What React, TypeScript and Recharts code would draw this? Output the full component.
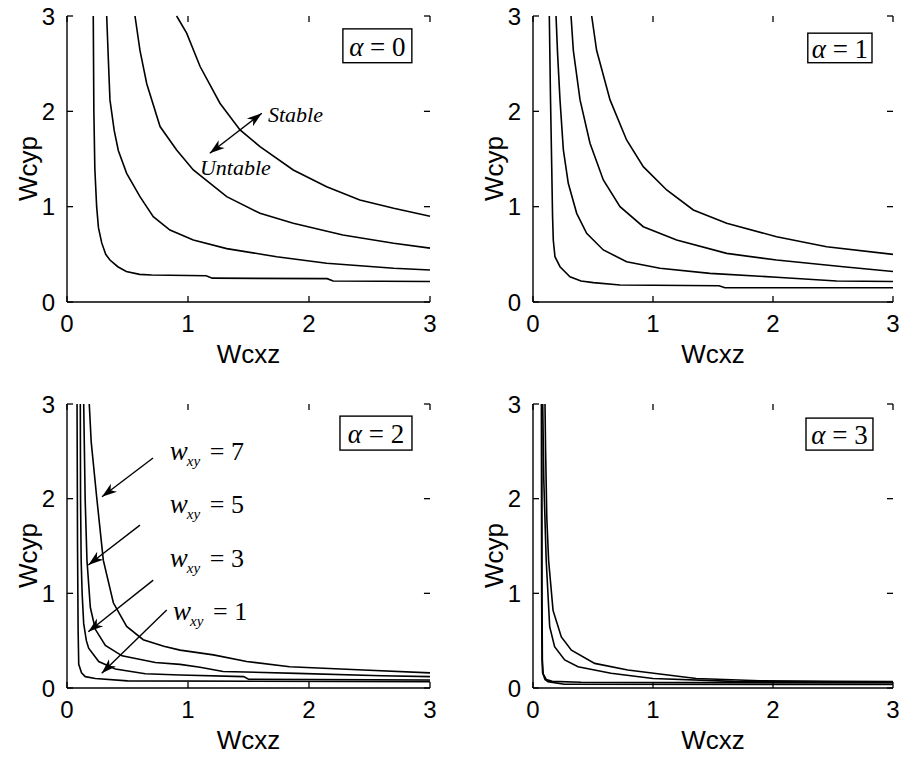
import React from 'react'
import {
  LineChart,
  Line,
  XAxis,
  YAxis,
  ReferenceArea,
  ReferenceLine,
  ReferenceDot
} from 'recharts'

type Pt = [number, number]

// tick values shared by all four panels
const axisTicks = [0, 1, 2, 3]
const wxyValues = ['1', '3', '5', '7']
const alphaValues = ['0', '1', '2', '3']

// alpha = 0, curves for w_xy = 1, 3, 5, 7  ([Wcxz, Wcyp])
const a0w1: Pt[] = [[0.217, 3], [0.222, 2.0], [0.23, 1.4], [0.245, 1.0], [0.26, 0.78], [0.287, 0.62], [0.32, 0.5], [0.355, 0.44], [0.42, 0.37], [0.49, 0.32], [0.6, 0.29], [0.7, 0.283], [1.15, 0.275], [1.2, 0.25], [2.15, 0.245], [2.2, 0.22], [3, 0.215]]
const a0w3: Pt[] = [[0.328, 3], [0.34, 2.6], [0.355, 2.12], [0.39, 1.8], [0.424, 1.59], [0.493, 1.35], [0.603, 1.105], [0.713, 0.895], [0.851, 0.755], [1.044, 0.65], [1.32, 0.56], [1.733, 0.475], [2.146, 0.406], [2.7, 0.354], [3, 0.335]]
const a0w5: Pt[] = [[0.562, 3], [0.603, 2.64], [0.659, 2.29], [0.769, 1.84], [0.906, 1.595], [1.044, 1.385], [1.32, 1.105], [1.595, 0.93], [1.87, 0.826], [2.28, 0.703], [2.7, 0.616], [3, 0.565]]
const a0w7: Pt[] = [[0.906, 3], [0.989, 2.82], [1.1, 2.47], [1.264, 2.085], [1.43, 1.805], [1.595, 1.63], [1.87, 1.385], [2.146, 1.21], [2.42, 1.07], [2.7, 0.983], [3, 0.9]]

// alpha = 1
const a1w1: Pt[] = [[0.136, 3], [0.145, 2.2], [0.156, 1.42], [0.163, 0.9], [0.169, 0.65], [0.183, 0.475], [0.225, 0.37], [0.308, 0.265], [0.4, 0.22], [0.503, 0.203], [0.725, 0.178], [1.55, 0.17], [1.6, 0.15], [3, 0.15]]
const a1w3: Pt[] = [[0.192, 3], [0.205, 2.6], [0.225, 2.12], [0.253, 1.595], [0.294, 1.245], [0.364, 0.93], [0.447, 0.72], [0.586, 0.546], [0.78, 0.423], [1.058, 0.354], [1.475, 0.3], [2.03, 0.26], [2.53, 0.22], [3, 0.215]]
const a1w5: Pt[] = [[0.317, 3], [0.336, 2.64], [0.392, 2.12], [0.475, 1.665], [0.586, 1.28], [0.725, 1.0], [0.919, 0.79], [1.197, 0.65], [1.614, 0.51], [2.03, 0.44], [2.586, 0.37], [3, 0.32]]
const a1w7: Pt[] = [[0.489, 3], [0.53, 2.64], [0.642, 2.12], [0.78, 1.7], [0.919, 1.42], [1.114, 1.175], [1.336, 0.965], [1.614, 0.826], [2.03, 0.685], [2.447, 0.58], [3, 0.5]]

// alpha = 2
const a2w1: Pt[] = [[0.083, 3], [0.087, 1.5], [0.092, 0.6], [0.097, 0.25], [0.12, 0.16], [0.151, 0.12], [0.234, 0.1], [0.5, 0.075], [3, 0.067]]
const a2w3: Pt[] = [[0.11, 3], [0.112, 2], [0.117, 1.35], [0.125, 1.0], [0.138, 0.68], [0.16, 0.5], [0.179, 0.42], [0.262, 0.28], [0.4, 0.2], [0.647, 0.15], [0.934, 0.137], [1.46, 0.12], [1.5, 0.092], [3, 0.085]]
const a2w5: Pt[] = [[0.138, 3], [0.15, 2.0], [0.165, 1.35], [0.193, 0.85], [0.234, 0.62], [0.317, 0.45], [0.455, 0.34], [0.73, 0.27], [0.934, 0.25], [1.1, 0.22], [1.29, 0.175], [1.9, 0.155], [2.6, 0.13], [3, 0.12]]
const a2w7: Pt[] = [[0.184, 3], [0.2, 2.6], [0.245, 2.02], [0.3, 1.35], [0.383, 0.9], [0.493, 0.65], [0.63, 0.51], [0.8, 0.44], [0.934, 0.4], [1.21, 0.35], [1.485, 0.28], [1.84, 0.225], [2.45, 0.19], [3, 0.16]]

// alpha = 3
const a3w1: Pt[] = [[0.07, 3], [0.072, 1.0], [0.075, 0.3], [0.08, 0.16], [0.1, 0.09], [0.125, 0.067], [0.26, 0.04], [3, 0.038]]
const a3w3: Pt[] = [[0.073, 3], [0.075, 1.0], [0.078, 0.3], [0.085, 0.15], [0.11, 0.09], [0.16, 0.07], [0.4, 0.06], [3, 0.055]]
const a3w5: Pt[] = [[0.081, 3], [0.09, 2.2], [0.11, 1.35], [0.139, 0.647], [0.18, 0.436], [0.264, 0.296], [0.375, 0.225], [0.65, 0.155], [1.0, 0.1], [1.67, 0.07], [3, 0.062]]
const a3w7: Pt[] = [[0.1, 3], [0.105, 2.5], [0.115, 1.8], [0.13, 1.35], [0.167, 0.82], [0.236, 0.54], [0.32, 0.4], [0.514, 0.26], [0.79, 0.19], [1.04, 0.15], [1.36, 0.1], [1.89, 0.077], [2.5, 0.07], [3, 0.068]]

const curveSets = [
  [a0w1, a0w3, a0w5, a0w7],
  [a1w1, a1w3, a1w5, a1w7],
  [a2w1, a2w3, a2w5, a2w7],
  [a3w1, a3w3, a3w5, a3w7]
]

const sansFont = "'Liberation Sans', Arial, sans-serif"
const serifFont = "'Liberation Serif', 'Times New Roman', serif"
// inward tick length in axis units (about 6px)
const TICK_X = 0.05
const TICK_Y = 0.063

// pixel layout of each subplot
const layout = [
  { left: 0, top: 0, width: 450, height: 380, mTop: 16, mRight: 20, yw: 67, xh: 78 },
  { left: 451, top: 0, width: 451, height: 380, mTop: 16, mRight: 9, yw: 82, xh: 78 },
  { left: 0, top: 380, width: 450, height: 381, mTop: 24, mRight: 20, yw: 67, xh: 73 },
  { left: 451, top: 380, width: 451, height: 381, mTop: 24, mRight: 9, yw: 82, xh: 73 }
]

// alpha boxes in data units [x1, x2, y1, y2]
const alphaBoxes = [
  [2.28, 2.85, 2.51, 2.865],
  [2.29, 2.825, 2.51, 2.82],
  [2.256, 2.851, 2.513, 2.872],
  [2.275, 2.833, 2.513, 2.851]
]

const toPts = (c: Pt[]) => c.map(([x, y]) => ({ x, y }))

const Head = ({ fx, fy, tx, ty }: any) => {
  const dx = tx - fx
  const dy = ty - fy
  const len = Math.hypot(dx, dy) || 1
  const ux = dx / len
  const uy = dy / len
  const nx = -uy
  const ny = ux
  const L = 15
  const W = 5
  const pts = [
    [tx, ty],
    [tx - L * ux + W * nx, ty - L * uy + W * ny],
    [tx - 0.72 * L * ux, ty - 0.72 * L * uy],
    [tx - L * ux - W * nx, ty - L * uy - W * ny]
  ]
  return <polygon points={pts.map((p) => p.join(',')).join(' ')} fill="#000" />
}

const arrowShape = (both: boolean) => (p: any) => (
  <g>
    <line x1={p.x1} y1={p.y1} x2={p.x2} y2={p.y2} stroke="#000" strokeWidth={1.4} />
    <Head fx={p.x1} fy={p.y1} tx={p.x2} ty={p.y2} />
    {both && <Head fx={p.x2} fy={p.y2} tx={p.x1} ty={p.y1} />}
  </g>
)

const italicText = (label: string, size = 22) => (p: any) => (
  <text x={p.cx} y={p.cy} fontFamily={serifFont} fontStyle="italic" fontSize={size} fill="#000">
    {label}
  </text>
)

const wxyText = (value: string) => (p: any) => (
  <g>
    <text x={p.cx} y={p.cy} fontFamily={serifFont} fontStyle="italic" fontSize={27} fill="#000">w</text>
    <text x={p.cx + 17} y={p.cy + 6} fontFamily={serifFont} fontStyle="italic" fontSize={15} fill="#000">xy</text>
    <text x={p.cx + 40} y={p.cy} fontFamily={serifFont} fontSize={26} fill="#000">= {value}</text>
  </g>
)

// arrows and labels of the alpha = 2 panel, data units
const wxyArrows = [
  [0.711, 2.43, 0.289, 2.02],
  [0.603, 1.72, 0.176, 1.3],
  [0.713, 1.14, 0.176, 0.595],
  [0.824, 0.824, 0.287, 0.155]
]
const wxyLabelPos = [
  [0.85, 2.41],
  [0.85, 1.85],
  [0.85, 1.28],
  [0.876, 0.718]
]

// short inward tick segments on all four sides of the box
const tickSegments = axisTicks.flatMap((v) => [
  [{ x: v, y: 0 }, { x: v, y: TICK_Y }],
  [{ x: v, y: 3 }, { x: v, y: 3 - TICK_Y }],
  [{ x: 0, y: v }, { x: TICK_X, y: v }],
  [{ x: 3, y: v }, { x: 3 - TICK_X, y: v }]
])

const Panel = ({ idx }: { idx: number }) => {
  const l = layout[idx]
  const box = alphaBoxes[idx]
  return (
    <div style={{ position: 'absolute', left: l.left, top: l.top }}>
      <LineChart
        width={l.width}
        height={l.height}
        margin={{ top: l.mTop, right: l.mRight, left: 0, bottom: 0 }}
      >
        <XAxis
          xAxisId="b"
          type="number"
          dataKey="x"
          domain={[0, 3]}
          ticks={axisTicks}
          interval={0}
          height={l.xh}
          tickSize={0}
          tickMargin={13}
          axisLine={{ stroke: '#000', strokeWidth: 1.4 }}
          tickLine={false}
          tick={{ fill: '#000', fontSize: 24, fontFamily: sansFont }}
          label={(props: any) => {
            const vb = props.viewBox
            return (
              <text x={vb.x + vb.width / 2} y={vb.y + 61} textAnchor="middle" fontFamily={sansFont} fontSize={26} fill="#000">
                Wcxz
              </text>
            )
          }}
        />
        <XAxis
          xAxisId="t"
          orientation="top"
          type="number"
          dataKey="x"
          domain={[0, 3]}
          ticks={axisTicks}
          height={0}
          tick={false}
          axisLine={{ stroke: '#000', strokeWidth: 1.4 }}
          tickLine={false}
        />
        <YAxis
          yAxisId="l"
          type="number"
          domain={[0, 3]}
          ticks={axisTicks}
          interval={0}
          width={l.yw}
          tickSize={0}
          tickMargin={12}
          axisLine={{ stroke: '#000', strokeWidth: 1.4 }}
          tickLine={false}
          tick={{ fill: '#000', fontSize: 24, fontFamily: sansFont }}
          label={(props: any) => {
            const vb = props.viewBox
            const cx = vb.x + vb.width - 30
            const cy = vb.y + vb.height / 2 + 9.5
            return (
              <text x={cx} y={cy} transform={`rotate(-90, ${cx}, ${cy})`} textAnchor="middle" fontFamily={sansFont} fontSize={26} fill="#000">
                Wcyp
              </text>
            )
          }}
        />
        <YAxis
          yAxisId="r"
          orientation="right"
          type="number"
          domain={[0, 3]}
          ticks={axisTicks}
          width={0}
          tick={false}
          axisLine={{ stroke: '#000', strokeWidth: 1.4 }}
          tickLine={false}
        />
        {tickSegments.map((s, i) => (
          <ReferenceLine
            key={'tk' + i}
            xAxisId="b"
            yAxisId="l"
            segment={s}
            stroke="#000"
            strokeWidth={1.3}
          />
        ))}
        {curveSets[idx].map((c, i) => (
          <Line
            key={wxyValues[i]}
            xAxisId="b"
            yAxisId="l"
            data={toPts(c)}
            dataKey="y"
            type="linear"
            stroke="#000"
            strokeWidth={1.6}
            dot={false}
            activeDot={false}
            isAnimationActive={false}
          />
        ))}
        <ReferenceArea
          xAxisId="b"
          yAxisId="l"
          x1={box[0]}
          x2={box[1]}
          y1={box[2]}
          y2={box[3]}
          shape={(p: any) => (
            <g>
              <rect x={p.x} y={p.y} width={p.width} height={p.height} fill="#fff" stroke="#000" strokeWidth={1.4} />
              <text x={p.x + p.width / 2} y={p.y + p.height / 2 + 10} textAnchor="middle" fontFamily={serifFont} fontSize={27} fill="#000">
                <tspan fontStyle="italic">α</tspan>
                {' = ' + alphaValues[idx]}
              </text>
            </g>
          )}
        />
        {idx === 0 && (
          <ReferenceLine
            xAxisId="b"
            yAxisId="l"
            segment={[{ x: 1.18, y: 1.56 }, { x: 1.61, y: 1.98 }]}
            shape={arrowShape(true)}
          />
        )}
        {idx === 0 && (
          <ReferenceDot xAxisId="b" yAxisId="l" x={1.661} y={1.889} r={0} shape={italicText('Stable')} />
        )}
        {idx === 0 && (
          <ReferenceDot xAxisId="b" yAxisId="l" x={1.099} y={1.333} r={0} shape={italicText('Untable')} />
        )}
        {idx === 2 &&
          wxyArrows.map((a, i) => (
            <ReferenceLine
              key={'arr' + i}
              xAxisId="b"
              yAxisId="l"
              segment={[{ x: a[0], y: a[1] }, { x: a[2], y: a[3] }]}
              shape={arrowShape(false)}
            />
          ))}
        {idx === 2 &&
          wxyLabelPos.map((pos, i) => (
            <ReferenceDot
              key={'lab' + i}
              xAxisId="b"
              yAxisId="l"
              x={pos[0]}
              y={pos[1]}
              r={0}
              shape={wxyText(wxyValues[3 - i])}
            />
          ))}
      </LineChart>
    </div>
  )
}

export default function App() {
  return (
    <div style={{ position: 'absolute', left: 0, top: 0, width: 902, height: 761, background: '#fff' }}>
      {[0, 1, 2, 3].map((i) => (
        <Panel key={i} idx={i} />
      ))}
    </div>
  )
}
